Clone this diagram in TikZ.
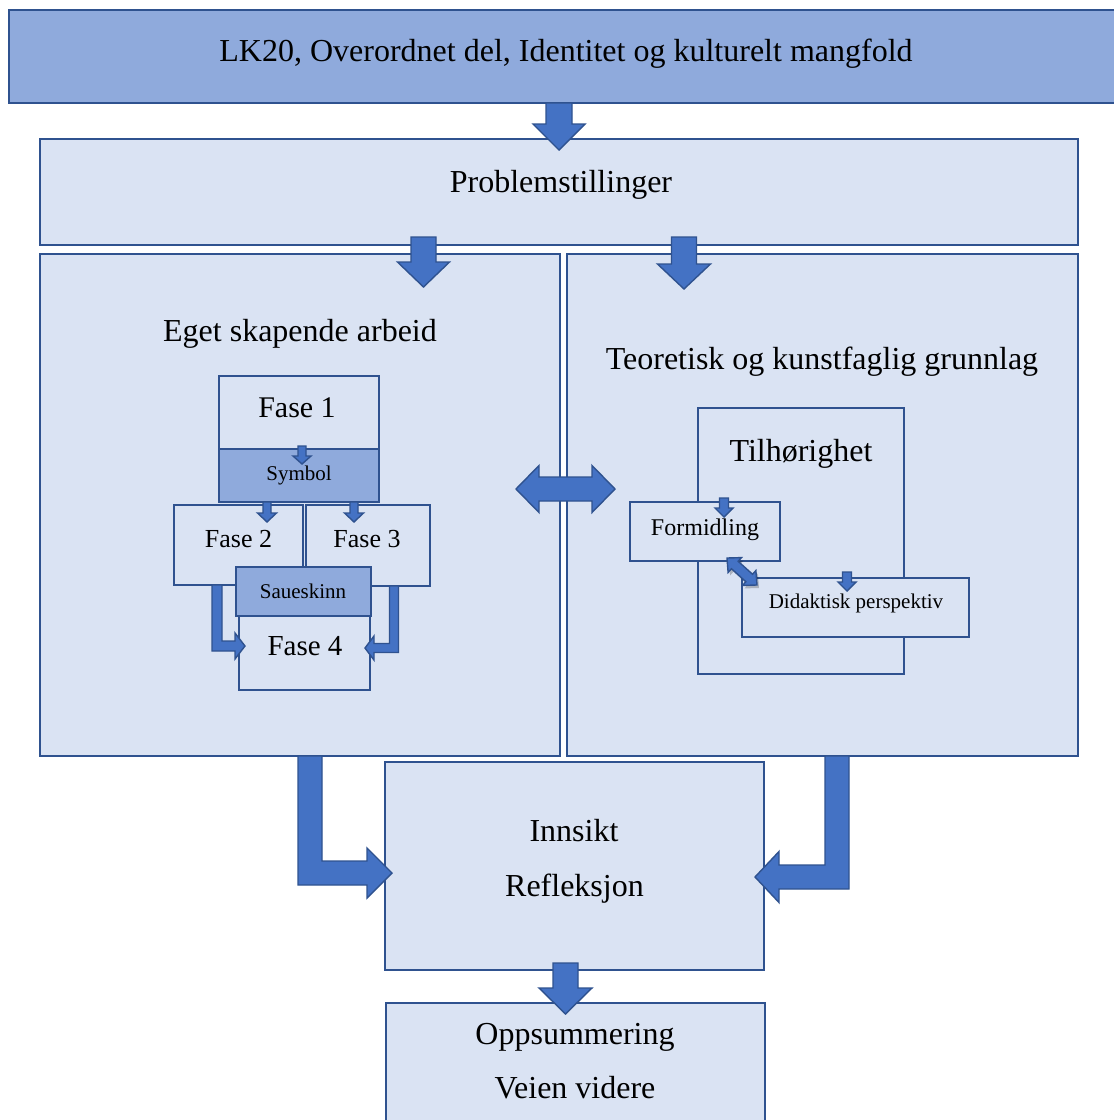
\documentclass[tikz,border=0pt]{standalone}
\usepackage{fontspec}
\setmainfont{Liberation Serif}
\usetikzlibrary{calc}

\definecolor{boxlight}{HTML}{DAE3F3}
\definecolor{boxmid}{HTML}{8FAADC}
\definecolor{boxline}{HTML}{2F528F}
\definecolor{arrowfill}{HTML}{4472C4}

\newcommand\fsz[1]{\fontsize{#1}{#1}\selectfont}

% straight block arrow: [style]{start}{tip}{shaft half width}{head half width}{head length}
\newcommand\blockarrow[6][]{%
  \draw[barrow,#1] let \p1=(#2), \p2=(#3),
      \n1={atan2(\y2-\y1,\x2-\x1)}, \n2={veclen(\x2-\x1,\y2-\y1)} in
    [shift={(\p1)}, rotate=\n1]
    (0,-#4) -- ({\n2-#6},-#4) -- ({\n2-#6},-#5) -- (\n2,0)
    -- ({\n2-#6},#5) -- ({\n2-#6},#4) -- (0,#4) -- cycle;}

% two-headed block arrow: [style]{end a}{end b}{shaft half width}{head half width}{head length}
\newcommand\twoheadarrow[6][]{%
  \draw[barrow,#1] let \p1=(#2), \p2=(#3),
      \n1={atan2(\y2-\y1,\x2-\x1)}, \n2={veclen(\x2-\x1,\y2-\y1)} in
    [shift={(\p1)}, rotate=\n1]
    (0,0) -- (#6,#5) -- (#6,#4) -- ({\n2-#6},#4) -- ({\n2-#6},#5) -- (\n2,0)
    -- ({\n2-#6},-#5) -- ({\n2-#6},-#4) -- (#6,-#4) -- (#6,-#5) -- cycle;}

% bent block arrow, down first and then sideways:
% [style]{start}{tip}{shaft half width}{head half width}{head length}
\newcommand\bentarrow[6][]{%
  \draw[barrow,#1] let \p1=(#2), \p2=(#3), \n1={sign(\x2-\x1)} in
    ({\x1-(\n1)*#4pt},\y1) -- ({\x1+(\n1)*#4pt},\y1)
    -- ({\x1+(\n1)*#4pt},{\y2+#4pt}) -- ({\x2-(\n1)*#6pt},{\y2+#4pt})
    -- ({\x2-(\n1)*#6pt},{\y2+#5pt}) -- (\p2)
    -- ({\x2-(\n1)*#6pt},{\y2-#5pt}) -- ({\x2-(\n1)*#6pt},{\y2-#4pt})
    -- ({\x1-(\n1)*#4pt},{\y2-#4pt}) -- cycle;}

\begin{document}
\begin{tikzpicture}[x=1pt,y=-1pt,
  box/.style={draw=boxline, line width=2.6pt, fill=boxlight, rectangle,
    inner sep=0pt, outer sep=0pt},
  smallbox/.style={box, line width=2.2pt},
  midbox/.style={smallbox, fill=boxmid},
  txt/.style={anchor=base, inner sep=0pt, outer sep=0pt, text=black},
  barrow/.style={draw=boxline, line width=1.4pt, fill=arrowfill, line join=miter},
  shadowarrow/.style={draw=none, fill=black, opacity=0.22},
]
\clip (0,0) rectangle (1114,1120);
\fill[white] (0,0) rectangle (1114,1120);

% main frames
\node[box, fill=boxmid, minimum width=1116pt, minimum height=93pt] (top) at (567,56.5) {};
\node[box, minimum width=1038pt, minimum height=106pt] (prob) at (559,192) {};
\node[box, minimum width=520pt, minimum height=502pt] (lbox) at (300,505) {};
\node[box, minimum width=511pt, minimum height=502pt] (rbox) at (822.5,505) {};

\node[txt, font=\fsz{32}] (ttop) at (566,61) {LK20, Overordnet del, Identitet og kulturelt mangfold};
\node[txt, font=\fsz{32}] (tprob) at (561,192) {Problemstillinger};
\node[txt, font=\fsz{32}] (tleft) at (300,341) {Eget skapende arbeid};
\node[txt, font=\fsz{32}] (tright) at (822,369) {Teoretisk og kunstfaglig grunnlag};

% arrows between the frames
\coordinate (a1s) at (prob.north |- top.south);
\coordinate (a1t) at ($(prob.north)+(0,11)$);
\blockarrow{a1s}{a1t}{13}{26}{26}
\coordinate (a2t) at ($(lbox.north)+(123.5,33)$);
\coordinate (a2s) at ($(a2t |- prob.south)+(0,-8)$);
\blockarrow{a2s}{a2t}{12.5}{26}{25}
\coordinate (a3t) at ($(rbox.north)+(-138.5,35)$);
\coordinate (a3s) at ($(a3t |- prob.south)+(0,-8)$);
\blockarrow{a3s}{a3t}{12.5}{26.5}{25}

% creative work: the four phases
\node[smallbox, minimum width=160pt, minimum height=73pt] (fase1) at (299,412.5) {};
\node[midbox, minimum width=160pt, minimum height=53pt] (symbol) at (299,475.5) {};
\node[smallbox, minimum width=129pt, minimum height=80pt] (fase2) at (238.5,545) {};
\node[smallbox, minimum width=124pt, minimum height=81pt] (fase3) at (368,545.5) {};
\node[smallbox, minimum width=131pt, minimum height=74pt] (fase4) at (304.5,653) {};
\node[midbox, minimum width=135pt, minimum height=49pt] (saueskinn) at (303.5,591.5) {};

\node[txt, font=\fsz{30}] (tfase1) at (297,417) {Fase 1};
\node[txt, font=\fsz{21}] (tsymbol) at (299,480) {Symbol};
\node[txt, font=\fsz{26}] (tfase2) at (238.5,547) {Fase 2};
\node[txt, font=\fsz{26}] (tfase3) at (367,547) {Fase 3};
\node[txt, font=\fsz{21}] (tsaueskinn) at (303,598) {Saueskinn};
\node[txt, font=\fsz{29}] (tfase4) at (305,655) {Fase 4};

\coordinate (s1s) at ($(fase1.south)+(3,-3)$);
\coordinate (s1t) at ($(symbol.north)+(3,15)$);
\blockarrow{s1s}{s1t}{4}{9}{8}
\coordinate (s2s) at ($(symbol.south)+(-32,0)$);
\coordinate (s2t) at ($(fase2.north)+(28.5,17)$);
\blockarrow{s2s}{s2t}{4}{9.5}{9}
\coordinate (s3s) at ($(symbol.south)+(55,0)$);
\coordinate (s3t) at ($(fase3.north)+(-14,17)$);
\blockarrow{s3s}{s3t}{4}{9.5}{9}
\coordinate (e3s) at ($(fase2.south)+(-21.5,0)$);
\coordinate (e3t) at ($(fase4.west)+(6,-7)$);
\bentarrow{e3s}{e3t}{5}{13}{10}
\coordinate (e4s) at ($(fase3.south)+(26,0)$);
\coordinate (e4t) at ($(fase4.east)+(-5,-5)$);
\bentarrow{e4s}{e4t}{4.5}{12}{9}

% theoretical basis
\node[smallbox, minimum width=206pt, minimum height=266pt] (tilh) at (801,541) {};
\node[smallbox, minimum width=150pt, minimum height=59pt] (formidling) at (705,531.5) {};
\node[smallbox, minimum width=227pt, minimum height=59pt] (didaktisk) at (855.5,607.5) {};

\node[txt, font=\fsz{32}] (ttilh) at (801,461) {Tilhørighet};
\node[txt, font=\fsz{24}] (tformidling) at (705,535) {Formidling};
\node[txt, font=\fsz{21}] (tdidaktisk) at (856,608) {Didaktisk perspektiv};

\coordinate (s4s) at ($(formidling.north)+(19,-4)$);
\coordinate (s4t) at ($(formidling.north)+(19,15)$);
\blockarrow{s4s}{s4t}{4.5}{9}{9}
\coordinate (s5s) at ($(didaktisk.north)+(-8.5,-6)$);
\coordinate (s5t) at ($(didaktisk.north)+(-8.5,13)$);
\blockarrow{s5s}{s5t}{4.5}{9}{9}

\coordinate (d2a) at ($(formidling.south)+(22,-3)$);
\coordinate (d2b) at ($(didaktisk.north west)+(15,7)$);
\coordinate (d2as) at ($(d2a)+(2,3)$);
\coordinate (d2bs) at ($(d2b)+(2,3)$);
\twoheadarrow[shadowarrow]{d2as}{d2bs}{5}{10}{10.5}
\twoheadarrow{d2a}{d2b}{5}{10}{10.5}

% link between the two halves
\coordinate (d1a) at ($(lbox.east)+(-44,-16)$);
\coordinate (d1b) at ($(rbox.west)+(48,-16)$);
\twoheadarrow{d1a}{d1b}{12}{23.5}{23}

% results
\node[box, line width=2.2pt, minimum width=379pt, minimum height=208pt] (innsikt) at (574.5,866) {};
\node[box, line width=2.2pt, minimum width=379pt, minimum height=127pt] (opps) at (575.5,1066.5) {};

\node[txt, font=\fsz{32}] (tinnsikt) at (574,841) {Innsikt};
\node[txt, font=\fsz{32}] (trefleksjon) at (574.5,896) {Refleksjon};
\node[txt, font=\fsz{32}] (topps) at (575,1044) {Oppsummering};
\node[txt, font=\fsz{32}] (tveien) at (575,1098) {Veien videre};

\coordinate (e1s) at ($(lbox.south west)+(270,0)$);
\coordinate (e1t) at ($(innsikt.west)+(7,7)$);
\bentarrow{e1s}{e1t}{12}{25}{25}
\coordinate (e2s) at ($(rbox.south west)+(270,0)$);
\coordinate (e2t) at ($(innsikt.east)+(-9,11)$);
\bentarrow{e2s}{e2t}{12}{25.5}{24}

\coordinate (a4s) at ($(innsikt.south)+(-9,-7)$);
\coordinate (a4t) at ($(a4s |- opps.north)+(0,11)$);
\blockarrow{a4s}{a4t}{12.5}{26.5}{26}
\end{tikzpicture}
\end{document}
